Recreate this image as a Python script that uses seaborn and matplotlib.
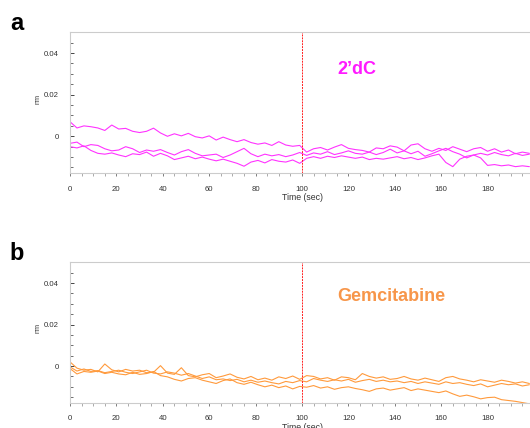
import numpy as np
import pandas as pd
import matplotlib
matplotlib.use("Agg")
import matplotlib.pyplot as plt
from matplotlib.ticker import MultipleLocator, FuncFormatter
import seaborn as sns

# ── data (displacement in units of 1e-3 nm, sampled every 3 sec) ─────────────
TIME = list(range(0, 199, 3))

DC_1 = [7.0, 4.0, 5.0, 4.6, 4.0, 2.8, 5.4, 3.5, 3.8, 2.4,
        1.8, 2.4, 3.9, 1.6, 0.0, 1.2, 0.2, 1.4, -0.2, -0.8,
        0.2, -1.8, -0.4, -1.6, -2.6, -1.6, -3.0, -3.8, -3.2, -4.4,
        -2.6, -4.2, -4.8, -4.4, -7.6, -6.0, -5.4, -6.6, -5.2, -4.0,
        -5.8, -6.4, -6.8, -7.6, -5.6, -6.0, -4.6, -5.2, -7.0, -4.2,
        -3.6, -6.0, -7.2, -5.8, -6.8, -5.0, -6.2, -7.4, -6.0, -5.4,
        -7.2, -6.0, -7.6, -6.6, -8.4, -7.6, -8.2]
DC_2 = [-3.4, -2.8, -5.0, -4.0, -4.4, -6.0, -7.0, -6.6, -5.0, -6.0,
        -7.8, -6.6, -7.2, -6.4, -7.8, -9.0, -7.4, -6.4, -8.2, -9.4,
        -9.0, -8.6, -10.2, -9.0, -7.4, -5.8, -8.4, -9.8, -8.6, -9.4,
        -8.8, -9.8, -9.0, -7.8, -9.2, -8.0, -8.6, -7.4, -8.8, -8.0,
        -7.0, -8.2, -8.6, -7.6, -8.8, -7.8, -6.2, -8.0, -7.0, -8.4,
        -7.2, -9.6, -8.4, -7.0, -5.8, -7.4, -8.6, -10.4, -9.0, -8.2,
        -9.0, -7.8, -8.8, -9.4, -8.2, -9.2, -8.6]
DC_3 = [-5.0, -5.6, -4.6, -6.8, -8.2, -8.6, -8.0, -9.0, -9.8, -8.4,
        -8.8, -7.6, -9.6, -8.2, -9.4, -11.2, -10.4, -9.6, -10.8, -10.0,
        -11.0, -11.8, -11.0, -12.0, -13.0, -14.4, -12.4, -11.6, -12.8, -11.2,
        -12.0, -12.4, -11.4, -13.0, -10.6, -9.8, -10.6, -9.6, -10.2, -9.4,
        -10.0, -10.6, -10.0, -11.2, -10.6, -11.0, -10.4, -9.8, -10.8, -10.2,
        -11.2, -10.4, -9.4, -8.6, -12.6, -14.6, -11.0, -9.6, -9.0, -10.4,
        -14.0, -13.6, -14.2, -13.8, -14.6, -14.2, -14.6]

GEM_1 = [2.0, -1.0, -2.0, -1.6, -2.8, 1.0, -1.8, -2.8, -1.6, -2.4,
         -2.0, -3.2, -3.0, 0.2, -3.4, -4.0, -0.8, -4.6, -5.2, -4.2,
         -3.6, -5.6, -4.8, -3.8, -5.4, -6.2, -5.0, -6.6, -5.8, -6.8,
         -5.2, -6.0, -4.8, -6.4, -4.6, -5.0, -6.2, -5.6, -6.8, -5.2,
         -5.6, -6.6, -3.6, -5.0, -5.8, -5.2, -6.4, -6.0, -5.0, -6.2,
         -6.8, -5.8, -6.6, -7.4, -5.6, -5.0, -6.2, -6.8, -7.6, -6.6,
         -7.2, -7.8, -6.8, -7.4, -8.2, -7.6, -8.4]
GEM_2 = [-0.4, -2.4, -1.4, -2.6, -2.2, -3.2, -2.6, -2.0, -3.0, -3.6,
         -2.8, -2.0, -3.4, -3.8, -2.8, -3.4, -4.4, -3.6, -4.8, -6.0,
         -5.2, -6.6, -6.2, -7.0, -6.4, -7.6, -6.8, -7.8, -7.2, -8.0,
         -8.6, -7.4, -8.0, -7.0, -7.6, -6.0, -6.8, -7.4, -6.6, -7.2,
         -6.4, -7.8, -7.0, -6.4, -7.4, -6.8, -7.6, -7.2, -8.0, -7.4,
         -8.4, -7.6, -8.2, -8.8, -7.6, -8.4, -8.0, -8.8, -9.4, -8.6,
         -10.0, -9.2, -8.4, -9.0, -8.6, -9.6, -9.0]
GEM_3 = [-1.2, -3.8, -2.6, -3.0, -2.4, -3.6, -3.0, -3.8, -4.2, -3.0,
         -4.0, -3.6, -2.6, -4.6, -5.2, -6.4, -7.2, -6.0, -5.6, -6.8,
         -7.6, -8.4, -7.0, -6.2, -8.0, -8.8, -7.8, -9.0, -10.0, -9.2,
         -10.4, -9.6, -11.0, -9.8, -10.2, -9.4, -10.6, -10.0, -11.2, -10.4,
         -10.0, -10.8, -11.4, -12.2, -11.0, -10.6, -11.6, -11.0, -10.4, -11.8,
         -11.0, -11.6, -12.2, -12.8, -12.0, -13.4, -14.6, -14.0, -14.8, -15.8,
         -15.2, -15.0, -16.2, -16.6, -17.0, -17.6, -18.2]

X_TICKS = [0, 20, 40, 60, 80, 100, 120, 140, 160, 180, 200]
X_TICK_LABELS = ["0", "20", "40", "60", "80", "100", "120", "140", "160", "180", ""]

PANELS = [
    ("a", "2\u2019dC", "#ff33ff", "#ff1aff", [DC_1, DC_2, DC_3], (123.5, 0.0323)),
    ("b", "Gemcitabine", "#ff9a3c", "#f7964a", [GEM_1, GEM_2, GEM_3], (138.6, 0.0333)),
]
INJECT_T = 100

# ── style ────────────────────────────────────────────────────────────────────
sns.set_style("white")
plt.rcParams["font.family"] = ["Liberation Sans", "DejaVu Sans"]

fig = plt.figure(figsize=(5.30, 4.28), dpi=100)
ax_rects = [
    [70 / 530, 1 - 173.3 / 428, 464 / 530, 141 / 428],
    [70 / 530, 1 - 403.0 / 428, 464 / 530, 140.7 / 428],
]
label_pos = [(16.5 / 530, 1 - 24 / 428), (17 / 530, 1 - 253 / 428)]

for (letter, drug, line_c, text_c, traces, txt_xy), rect, lp in zip(PANELS, ax_rects, label_pos):
    ax = fig.add_axes(rect)
    df = pd.DataFrame({
        "Time (sec)": np.tile(TIME, len(traces)),
        "nm": np.concatenate(traces) * 1e-3,
        "trace": np.repeat(np.arange(len(traces)), len(TIME)),
    })
    sns.lineplot(data=df, x="Time (sec)", y="nm", units="trace",
                 estimator=None, color=line_c, lw=0.8, ax=ax)
    ax.axvline(INJECT_T, color="#ff2020", lw=0.7, ls=(0, (2, 1)))

    ax.set_xlim(0, 200)
    ax.set_ylim(-0.0178, 0.05)
    ax.set_xticks(X_TICKS)
    ax.set_xticklabels(X_TICK_LABELS)
    ax.xaxis.set_minor_locator(MultipleLocator(5))
    ax.yaxis.set_major_locator(MultipleLocator(0.02))
    ax.yaxis.set_minor_locator(MultipleLocator(0.005))
    ax.yaxis.set_major_formatter(FuncFormatter(lambda v, p: f"{v:g}" if abs(v) > 1e-9 else "0"))

    ax.tick_params(axis="x", which="major", direction="out", length=2.5, width=0.6,
                   color="#666666", labelsize=5.6, labelcolor="#333333", pad=6.5)
    ax.tick_params(axis="x", which="minor", direction="out", length=1.8, width=0.5,
                   color="#888888")
    ax.tick_params(axis="y", which="major", direction="in", length=3, width=0.7,
                   color="#444444", labelsize=5.6, labelcolor="#333333", pad=8)
    ax.tick_params(axis="y", which="minor", direction="in", length=2.5, width=0.6,
                   color="#555555")
    ax.tick_params(left=True, bottom=True, which="both")

    for side in ["top", "bottom", "left"]:
        ax.spines[side].set_color("#cccccc")
        ax.spines[side].set_linewidth(0.8)
    ax.spines["right"].set_visible(False)

    ax.set_xlabel("Time (sec)", fontsize=6.3, color="#333333", labelpad=0.5)
    ax.set_ylabel("nm", fontsize=5.2, color="#333333", labelpad=2)
    ax.yaxis.set_label_coords(-0.062, 0.53)

    ax.text(txt_xy[0], txt_xy[1], drug, color=text_c, fontsize=13,
            fontweight="bold", ha="center", va="center")
    fig.text(lp[0], lp[1], letter, fontsize=17, fontweight="bold",
             ha="center", va="center", color="black")

fig.savefig("out.png", dpi=100)
